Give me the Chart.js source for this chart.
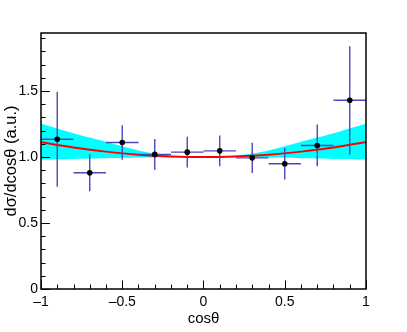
<!DOCTYPE html>
<html>
<head>
<meta charset="utf-8">
<script src="https://cdn.jsdelivr.net/npm/chart.js@4.4.1/dist/chart.umd.min.js"></script>
<style>
  html, body { margin: 0; padding: 0; background: #fff; }
  #wrap { width: 407px; height: 332px; }
</style>
</head>
<body>
<div id="wrap"><canvas id="chart" width="407" height="332"></canvas></div>
<script>
// measured points (bin centres, values, symmetric errors)
const binCenters = [-0.9, -0.7, -0.5, -0.3, -0.1, 0.1, 0.3, 0.5, 0.7, 0.9];
const binHalfWidth = 0.1;
const measured = [1.135, 0.881, 1.110, 1.020, 1.037, 1.047, 0.994, 0.949, 1.088, 1.430];
const measuredErr = [0.36, 0.14, 0.131, 0.117, 0.117, 0.117, 0.114, 0.12, 0.158, 0.41];

// fit curve and its uncertainty band
const curveX = [-1, -0.8, -0.6, -0.4, -0.2, 0, 0.2, 0.4, 0.6, 0.8, 1];
const fitValues = [1.112, 1.072, 1.041, 1.018, 1.005, 1.0, 1.005, 1.018, 1.041, 1.072, 1.115];
const bandUpper = [1.254, 1.18, 1.115, 1.05, 1.012, 1.0, 1.012, 1.05, 1.115, 1.18, 1.254];
const bandLower = [0.982, 0.986, 0.991, 0.996, 0.999, 1.0, 0.999, 0.996, 0.991, 0.986, 0.982];

const xTicks = [-1, -0.5, 0, 0.5, 1];
const yTicks = [0, 0.5, 1, 1.5];
const minorStep = 0.1;

const FONT = "'Liberation Sans Narrow', 'Liberation Sans', Arial, sans-serif";

const toXY = (xs, ys) => xs.map((v, i) => ({ x: v, y: ys[i] }));

const errorBars = {
  id: "errorBars",
  beforeDatasetDraw(chart, args) {
    if (args.index !== 0) return;
    const { ctx, scales: { x, y } } = chart;
    ctx.save();
    ctx.strokeStyle = "#4848c0";
    ctx.lineWidth = 1.4;
    ctx.beginPath();
    binCenters.forEach((c, i) => {
      const px = x.getPixelForValue(c);
      const py = y.getPixelForValue(measured[i]);
      ctx.moveTo(x.getPixelForValue(c - binHalfWidth), py);
      ctx.lineTo(x.getPixelForValue(c + binHalfWidth), py);
      ctx.moveTo(px, y.getPixelForValue(measured[i] + measuredErr[i]));
      ctx.lineTo(px, y.getPixelForValue(measured[i] - measuredErr[i]));
    });
    ctx.stroke();
    ctx.restore();
  }
};

// ROOT style frame with inward ticks on the left and bottom
const rootFrame = {
  id: "rootFrame",
  afterDraw(chart) {
    const { ctx, chartArea: a, scales: { x, y } } = chart;
    ctx.save();
    ctx.strokeStyle = "#000";
    ctx.lineWidth = 1;
    ctx.beginPath();
    for (let v = x.min; v <= x.max + 1e-9; v += minorStep) {
      const major = xTicks.some(t => Math.abs(t - v) < 1e-6);
      const px = Math.round(x.getPixelForValue(v)) + 0.5;
      ctx.moveTo(px, a.bottom);
      ctx.lineTo(px, a.bottom - (major ? 8.5 : 4.5));
    }
    for (let v = y.min; v <= y.max + 1e-9; v += minorStep) {
      const major = yTicks.some(t => Math.abs(t - v) < 1e-6);
      const py = Math.round(y.getPixelForValue(v)) + 0.5;
      ctx.moveTo(a.left, py);
      ctx.lineTo(a.left + (major ? 9 : 4.5), py);
    }
    ctx.stroke();
    ctx.lineWidth = 1.5;
    ctx.strokeRect(a.left, a.top, a.right - a.left, a.bottom - a.top);
    ctx.restore();
  }
};

new Chart(document.getElementById("chart"), {
  type: "scatter",
  data: {
    datasets: [
      {
        label: "data",
        data: toXY(binCenters, measured),
        pointRadius: 2.8,
        pointBackgroundColor: "#000",
        pointBorderWidth: 0
      },
      {
        label: "fit",
        type: "line",
        data: toXY(curveX, fitValues),
        borderColor: "#ff0000",
        borderWidth: 2,
        pointRadius: 0,
        tension: 0.4,
        fill: false
      },
      {
        label: "band up",
        type: "line",
        data: toXY(curveX, bandUpper),
        borderWidth: 0,
        pointRadius: 0,
        tension: 0.4,
        backgroundColor: "#00ffff",
        fill: "+1"
      },
      {
        label: "band low",
        type: "line",
        data: toXY(curveX, bandLower),
        borderWidth: 0,
        pointRadius: 0,
        tension: 0.4,
        fill: false
      }
    ]
  },
  options: {
    responsive: false,
    animation: false,
    layout: { padding: { top: 33, right: 41, left: 0, bottom: 0 } },
    plugins: { legend: { display: false }, tooltip: { enabled: false } },
    scales: {
      x: {
        type: "linear",
        min: -1,
        max: 1,
        afterFit: s => { s.height = 43; },
        afterBuildTicks: s => { s.ticks = xTicks.map(v => ({ value: v })); },
        grid: { display: false, drawTicks: false },
        border: { display: false },
        ticks: {
          color: "#000",
          padding: 4.5,
          font: { family: FONT, size: 14 },
          callback: v => String(v).replace("-", "\u2013")
        },
        title: {
          display: true,
          text: "cos\u03b8",
          color: "#000",
          font: { family: FONT, size: 15 },
          padding: { top: 0, bottom: 4 }
        }
      },
      y: {
        min: 0,
        max: 1.94,
        afterFit: s => { s.width = 41; },
        afterBuildTicks: s => { s.ticks = yTicks.map(v => ({ value: v })); },
        grid: { display: false, drawTicks: false },
        border: { display: false },
        ticks: {
          color: "#000",
          padding: 3,
          font: { family: FONT, size: 14 }
        },
        title: {
          display: true,
          text: "d\u03c3/dcos\u03b8 (a.u.)",
          color: "#000",
          font: { family: "'Liberation Sans', Arial, sans-serif", size: 16.5 },
          padding: { top: 2, bottom: 0 }
        }
      }
    }
  },
  plugins: [errorBars, rootFrame]
});
</script>
</body>
</html>
